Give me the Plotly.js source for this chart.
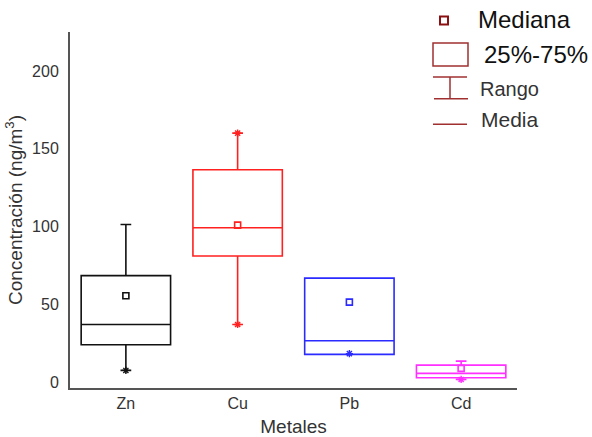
<!DOCTYPE html>
<html>
<head>
<meta charset="utf-8">
<script src="https://cdn.plot.ly/plotly-3.0.1.min.js"></script>
<style>html,body{margin:0;padding:0;background:#fff;}#chart{width:592px;height:437px;}</style>
</head>
<body>
<div id="chart"></div>
<script>
// ---- data ----
const metals = ["Zn", "Cu", "Pb", "Cd"];
const q1 = [24, 81, 17.8, 2.8];
const medianLine = [37, 99.2, 26.6, 5.6];
const q3 = [68.4, 136.5, 66.8, 10.9];
const lowerFence = [7.5, 37, 17.8, 1.7];
const upperFence = [101.3, 160, 66.8, 13.5];
const squareMarker = [55.5, 100.9, 51.4, 8.8];
const starX = ["Zn", "Cu", "Cu", "Pb", "Cd"];
const starY = [7.5, 160, 37, 18.3, 1.7];
const yTicks = [0, 50, 100, 150, 200];

const colors = {Zn: "#111111", Cu: "#ff2020", Pb: "#2b2bff", Cd: "#ff30ff"};

const traces = [];
metals.forEach((m, i) => {
  traces.push({
    type: "box",
    x: [m],
    q1: [q1[i]], median: [medianLine[i]], q3: [q3[i]],
    lowerfence: [lowerFence[i]], upperfence: [upperFence[i]],
    width: 0.8,
    whiskerwidth: 0.12,
    fillcolor: "rgba(0,0,0,0)",
    line: {color: colors[m], width: 1.6},
    boxpoints: false,
    hoverinfo: "skip",
    showlegend: false
  });
});
traces.push({
  type: "scatter", mode: "markers",
  x: metals, y: squareMarker,
  marker: {symbol: "square-open", size: 6, color: metals.map(m => colors[m]), line: {width: 1.6}},
  hoverinfo: "skip", showlegend: false
});
traces.push({
  type: "scatter", mode: "markers",
  x: starX, y: starY,
  marker: {symbol: "asterisk-open", size: 6, color: starX.map(m => colors[m]), line: {width: 1.4, color: starX.map(m => colors[m])}},
  hoverinfo: "skip", showlegend: false
});

// legend drawn in pixel space, converted to paper coordinates
const L = 70, R = 517, T = 32, B = 388;
const px = v => (v - L) / (R - L);
const py = v => (B - v) / (B - T);
const legC = "#a03030";
const shapes = [
  {type: "rect", xref: "paper", yref: "paper", x0: px(440), x1: px(448), y0: py(24.5), y1: py(16.5), line: {color: "#8b1010", width: 2}, fillcolor: "#fff"},
  {type: "rect", xref: "paper", yref: "paper", x0: px(433), x1: px(468), y0: py(66), y1: py(43), line: {color: legC, width: 1.5}},
  {type: "line", xref: "paper", yref: "paper", x0: px(433), x1: px(467), y0: py(77), y1: py(77), line: {color: legC, width: 1.5}},
  {type: "line", xref: "paper", yref: "paper", x0: px(450), x1: px(450), y0: py(77), y1: py(98.7), line: {color: legC, width: 1.5}},
  {type: "line", xref: "paper", yref: "paper", x0: px(434), x1: px(468), y0: py(98.7), y1: py(98.7), line: {color: legC, width: 1.5}},
  {type: "line", xref: "paper", yref: "paper", x0: px(433), x1: px(467), y0: py(124.3), y1: py(124.3), line: {color: legC, width: 1.5}}
];
const annText = (t, x, y, size, color) => ({
  text: t, xref: "paper", yref: "paper", x: px(x), y: py(y), xanchor: "left", yanchor: "middle",
  showarrow: false, font: {family: "Liberation Sans, Arial, sans-serif", size: size, color: color}
});
const annotations = [
  annText("Mediana", 476, 19.5, 24, "#111"),
  annText("25%-75%", 482, 54, 24, "#111"),
  annText("Rango", 478, 89, 20, "#333"),
  annText("Media", 479, 119, 21, "#333")
];

const layout = {
  width: 592, height: 437,
  margin: {l: 70, r: 75, t: 32, b: 49},
  paper_bgcolor: "#fff", plot_bgcolor: "#fff",
  font: {family: "Liberation Sans, Arial, sans-serif", color: "#333"},
  boxmode: "overlay",
  xaxis: {
    type: "category", range: [-0.5, 3.5],
    showline: true, linecolor: "#555", linewidth: 2,
    showgrid: false, zeroline: false, ticks: "",
    tickfont: {size: 16, color: "#333"},
    title: {text: "Metales", font: {size: 19, color: "#333"}, standoff: 8},
    automargin: false, fixedrange: true
  },
  yaxis: {
    range: [-3.8, 225], tickvals: yTicks,
    showline: true, linecolor: "#555", linewidth: 2,
    showgrid: false, zeroline: false,
    ticks: "outside", ticklen: 6, tickcolor: "rgba(0,0,0,0)",
    tickfont: {size: 16, color: "#333"},
    title: {text: "Concentración (ng/m<sup>3</sup>)", font: {size: 19, color: "#333"}, standoff: 4},
    automargin: false, fixedrange: true
  },
  shapes: shapes,
  annotations: annotations,
  showlegend: false
};

Plotly.newPlot("chart", traces, layout, {displayModeBar: false, staticPlot: true});
</script>
</body>
</html>
